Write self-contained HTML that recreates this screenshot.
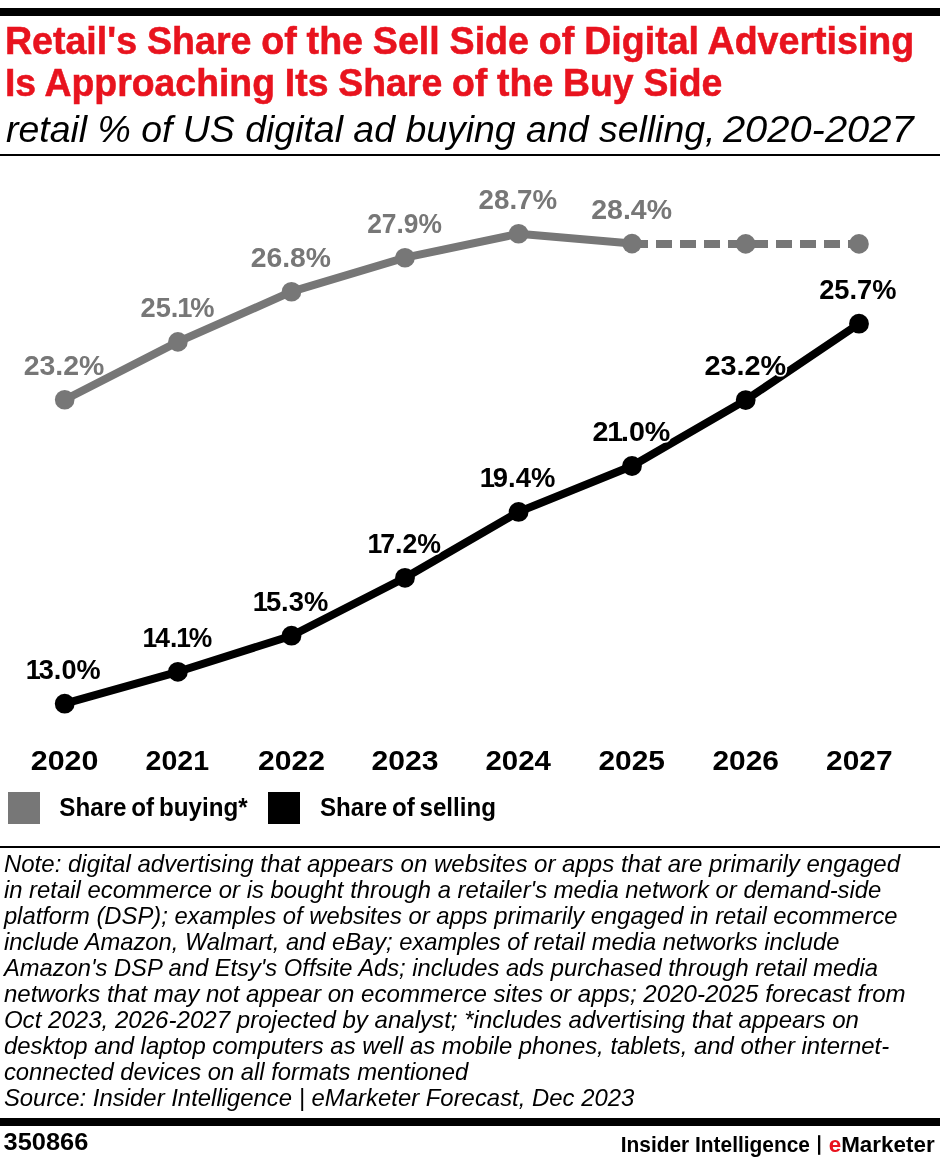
<!DOCTYPE html>
<html lang="en">
<head>
<meta charset="utf-8">
<title>Retail's Share of the Sell Side of Digital Advertising</title>
<style>
html,body{margin:0;padding:0;background:#fff;}
body{width:940px;height:1160px;overflow:hidden;font-family:"Liberation Sans",sans-serif;}
svg{display:block;font-family:"Liberation Sans",sans-serif;will-change:transform;}
.t{font-weight:bold;font-size:38.5px;fill:#e8131e;stroke:#e8131e;stroke-width:0.55px;word-spacing:-0.6px;}
.st{font-style:italic;font-size:36px;fill:#000;}
.halo{font-weight:bold;font-size:28px;fill:#fff;stroke:#fff;stroke-width:3.5px;stroke-linejoin:round;}
.lab{font-weight:bold;font-size:28px;}
.yr{font-weight:bold;font-size:28.5px;fill:#000;}
.lg{font-weight:bold;font-size:25px;fill:#000;word-spacing:-2px;}
.nt{font-style:italic;font-size:24px;fill:#000;}
.ft{font-weight:bold;fill:#000;}
</style>
</head>
<body>
<svg width="940" height="1160" viewBox="0 0 940 1160">
<rect x="0" y="0" width="940" height="1160" fill="#fff"/>
<!-- header -->
<rect x="0" y="8" width="940" height="8" fill="#000"/>
<text class="t" x="4.89" y="53.6" textLength="909.41" lengthAdjust="spacingAndGlyphs">Retail's Share of the Sell Side of Digital Advertising</text>
<text class="t" x="4.89" y="96.0" textLength="717.51" lengthAdjust="spacingAndGlyphs">Is Approaching Its Share of the Buy Side</text>
<text class="st" x="6.00" y="141.7" textLength="709.42" lengthAdjust="spacingAndGlyphs">retail % of US digital ad buying and selling,</text>
<text class="st" x="722.90" y="141.7" textLength="190.72" lengthAdjust="spacingAndGlyphs">2020-2027</text>
<rect x="0" y="154" width="940" height="2" fill="#000"/>
<!-- share of buying -->
<polyline points="64.7,399.8 177.9,341.9 291.5,291.7 405.0,257.7 518.6,233.8 632.0,243.6" fill="none" stroke="#777777" stroke-width="8" stroke-linejoin="round"/>
<line x1="632" y1="244" x2="859" y2="244" stroke="#777777" stroke-width="8" stroke-dasharray="16 8"/>
<circle cx="64.7" cy="399.8" r="9.8" fill="#777777"/>
<circle cx="177.9" cy="341.9" r="9.8" fill="#777777"/>
<circle cx="291.5" cy="291.7" r="9.8" fill="#777777"/>
<circle cx="405.0" cy="257.7" r="9.8" fill="#777777"/>
<circle cx="518.6" cy="233.8" r="9.8" fill="#777777"/>
<circle cx="632.0" cy="243.6" r="9.8" fill="#777777"/>
<circle cx="745.7" cy="243.9" r="9.8" fill="#777777"/>
<circle cx="859.0" cy="243.9" r="9.8" fill="#777777"/>
<!-- share of selling -->
<polyline points="64.7,703.7 177.9,671.8 291.5,635.7 405.0,577.8 518.6,511.9 632.0,466.0 745.7,400.1 859.0,323.7" fill="none" stroke="#000" stroke-width="8" stroke-linejoin="round"/>
<circle cx="64.7" cy="703.7" r="9.9" fill="#000"/>
<circle cx="177.9" cy="671.8" r="9.9" fill="#000"/>
<circle cx="291.5" cy="635.7" r="9.9" fill="#000"/>
<circle cx="405.0" cy="577.8" r="9.9" fill="#000"/>
<circle cx="518.6" cy="511.9" r="9.9" fill="#000"/>
<circle cx="632.0" cy="466.0" r="9.9" fill="#000"/>
<circle cx="745.7" cy="400.1" r="9.9" fill="#000"/>
<circle cx="859.0" cy="323.7" r="9.9" fill="#000"/>
<!-- data labels -->
<text class="halo" x="27.00" y="678.7" textLength="74.81" lengthAdjust="spacingAndGlyphs"><tspan dx="-1.22">1</tspan><tspan dx="-2.18">3</tspan>.0%</text>
<text class="halo" x="143.79" y="646.8" textLength="69.73" lengthAdjust="spacingAndGlyphs"><tspan dx="-1.22">1</tspan><tspan dx="-2.18">4</tspan>.<tspan dx="-1.22">1</tspan><tspan dx="-2.18">%</tspan></text>
<text class="halo" x="254.00" y="610.7" textLength="75.52" lengthAdjust="spacingAndGlyphs"><tspan dx="-1.22">1</tspan><tspan dx="-2.18">5</tspan>.3%</text>
<text class="halo" x="368.69" y="552.8" textLength="73.62" lengthAdjust="spacingAndGlyphs"><tspan dx="-1.22">1</tspan><tspan dx="-2.18">7</tspan>.2%</text>
<text class="halo" x="480.89" y="486.9" textLength="75.63" lengthAdjust="spacingAndGlyphs"><tspan dx="-1.22">1</tspan><tspan dx="-2.18">9</tspan>.4%</text>
<text class="halo" x="592.48" y="441.0" textLength="77.93" lengthAdjust="spacingAndGlyphs">2<tspan dx="-1.22">1</tspan><tspan dx="-2.18">.</tspan>0%</text>
<text class="halo" x="704.49" y="375.1" textLength="81.71" lengthAdjust="spacingAndGlyphs">23.2%</text>
<text class="halo" x="819.19" y="298.7" textLength="77.33" lengthAdjust="spacingAndGlyphs">25.7%</text>
<text class="lab" fill="#777777" x="23.68" y="374.8" textLength="80.73" lengthAdjust="spacingAndGlyphs">23.2%</text>
<text class="lab" fill="#777777" x="140.50" y="316.9" textLength="74.00" lengthAdjust="spacingAndGlyphs">25.<tspan dx="-1.22">1</tspan><tspan dx="-2.18">%</tspan></text>
<text class="lab" fill="#777777" x="250.69" y="266.7" textLength="80.31" lengthAdjust="spacingAndGlyphs">26.8%</text>
<text class="lab" fill="#777777" x="367.19" y="232.7" textLength="74.81" lengthAdjust="spacingAndGlyphs">27.9%</text>
<text class="lab" fill="#777777" x="478.59" y="208.8" textLength="78.62" lengthAdjust="spacingAndGlyphs">28.7%</text>
<text class="lab" fill="#777777" x="591.19" y="218.6" textLength="80.81" lengthAdjust="spacingAndGlyphs">28.4%</text>
<text class="lab" fill="#000" x="27.00" y="678.7" textLength="74.81" lengthAdjust="spacingAndGlyphs"><tspan dx="-1.22">1</tspan><tspan dx="-2.18">3</tspan>.0%</text>
<text class="lab" fill="#000" x="143.79" y="646.8" textLength="69.73" lengthAdjust="spacingAndGlyphs"><tspan dx="-1.22">1</tspan><tspan dx="-2.18">4</tspan>.<tspan dx="-1.22">1</tspan><tspan dx="-2.18">%</tspan></text>
<text class="lab" fill="#000" x="254.00" y="610.7" textLength="75.52" lengthAdjust="spacingAndGlyphs"><tspan dx="-1.22">1</tspan><tspan dx="-2.18">5</tspan>.3%</text>
<text class="lab" fill="#000" x="368.69" y="552.8" textLength="73.62" lengthAdjust="spacingAndGlyphs"><tspan dx="-1.22">1</tspan><tspan dx="-2.18">7</tspan>.2%</text>
<text class="lab" fill="#000" x="480.89" y="486.9" textLength="75.63" lengthAdjust="spacingAndGlyphs"><tspan dx="-1.22">1</tspan><tspan dx="-2.18">9</tspan>.4%</text>
<text class="lab" fill="#000" x="592.48" y="441.0" textLength="77.93" lengthAdjust="spacingAndGlyphs">2<tspan dx="-1.22">1</tspan><tspan dx="-2.18">.</tspan>0%</text>
<text class="lab" fill="#000" x="704.49" y="375.1" textLength="81.71" lengthAdjust="spacingAndGlyphs">23.2%</text>
<text class="lab" fill="#000" x="819.19" y="298.7" textLength="77.33" lengthAdjust="spacingAndGlyphs">25.7%</text>
<!-- x axis -->
<text class="yr" x="30.78" y="770.1" textLength="67.65" lengthAdjust="spacingAndGlyphs">2020</text>
<text class="yr" x="145.58" y="770.1" textLength="63.42" lengthAdjust="spacingAndGlyphs">2021</text>
<text class="yr" x="258.00" y="770.1" textLength="67.00" lengthAdjust="spacingAndGlyphs">2022</text>
<text class="yr" x="371.50" y="770.1" textLength="67.00" lengthAdjust="spacingAndGlyphs">2023</text>
<text class="yr" x="485.49" y="770.1" textLength="65.51" lengthAdjust="spacingAndGlyphs">2024</text>
<text class="yr" x="598.48" y="770.1" textLength="66.52" lengthAdjust="spacingAndGlyphs">2025</text>
<text class="yr" x="712.48" y="770.1" textLength="66.52" lengthAdjust="spacingAndGlyphs">2026</text>
<text class="yr" x="826.00" y="770.1" textLength="66.52" lengthAdjust="spacingAndGlyphs">2027</text>
<!-- legend -->
<rect x="8" y="792" width="32" height="32" fill="#777777"/>
<text class="lg" x="59.30" y="815.6" textLength="188.31" lengthAdjust="spacingAndGlyphs">Share of buying*</text>
<rect x="268" y="792" width="32" height="32" fill="#000"/>
<text class="lg" x="320.00" y="815.6" textLength="176.03" lengthAdjust="spacingAndGlyphs">Share of selling</text>
<rect x="0" y="846" width="940" height="2" fill="#000"/>
<!-- notes -->
<text class="nt" x="3.90" y="871.7" textLength="896.10" lengthAdjust="spacingAndGlyphs">Note: digital advertising that appears on websites or apps that are primarily engaged</text>
<text class="nt" x="3.90" y="897.7" textLength="877.50" lengthAdjust="spacingAndGlyphs">in retail ecommerce or is bought through a retailer's media network or demand-side</text>
<text class="nt" x="3.90" y="923.7" textLength="893.70" lengthAdjust="spacingAndGlyphs">platform (DSP); examples of websites or apps primarily engaged in retail ecommerce</text>
<text class="nt" x="3.90" y="949.7" textLength="835.50" lengthAdjust="spacingAndGlyphs">include Amazon, Walmart, and eBay; examples of retail media networks include</text>
<text class="nt" x="3.90" y="975.7" textLength="874.10" lengthAdjust="spacingAndGlyphs">Amazon's DSP and Etsy's Offsite Ads; includes ads purchased through retail media</text>
<text class="nt" x="3.90" y="1001.7" textLength="901.70" lengthAdjust="spacingAndGlyphs">networks that may not appear on ecommerce sites or apps; 2020-2025 forecast from</text>
<text class="nt" x="3.90" y="1027.7" textLength="855.10" lengthAdjust="spacingAndGlyphs">Oct 2023, 2026-2027 projected by analyst; *includes advertising that appears on</text>
<text class="nt" x="3.90" y="1053.7" textLength="885.20" lengthAdjust="spacingAndGlyphs">desktop and laptop computers as well as mobile phones, tablets, and other internet-</text>
<text class="nt" x="3.90" y="1079.7" textLength="464.41" lengthAdjust="spacingAndGlyphs">connected devices on all formats mentioned</text>
<text class="nt" x="3.90" y="1105.7" textLength="630.40" lengthAdjust="spacingAndGlyphs">Source: Insider Intelligence | eMarketer Forecast, Dec 2023</text>
<!-- footer -->
<rect x="0" y="1118" width="940" height="8" fill="#000"/>
<text class="ft" font-size="24.5" x="3.58" y="1150.0" textLength="84.83" lengthAdjust="spacingAndGlyphs">350866</text>
<text class="ft" font-size="22" x="620.69" y="1152.2" textLength="189.31" lengthAdjust="spacingAndGlyphs">Insider Intelligence</text>
<rect x="818" y="1135.2" width="2.3" height="19.6" fill="#000"/>
<text class="ft" font-size="22" x="828.70" y="1152.2" textLength="105.92" lengthAdjust="spacingAndGlyphs"><tspan fill="#e8131e">e</tspan>Marketer</text>
</svg>
</body>
</html>
